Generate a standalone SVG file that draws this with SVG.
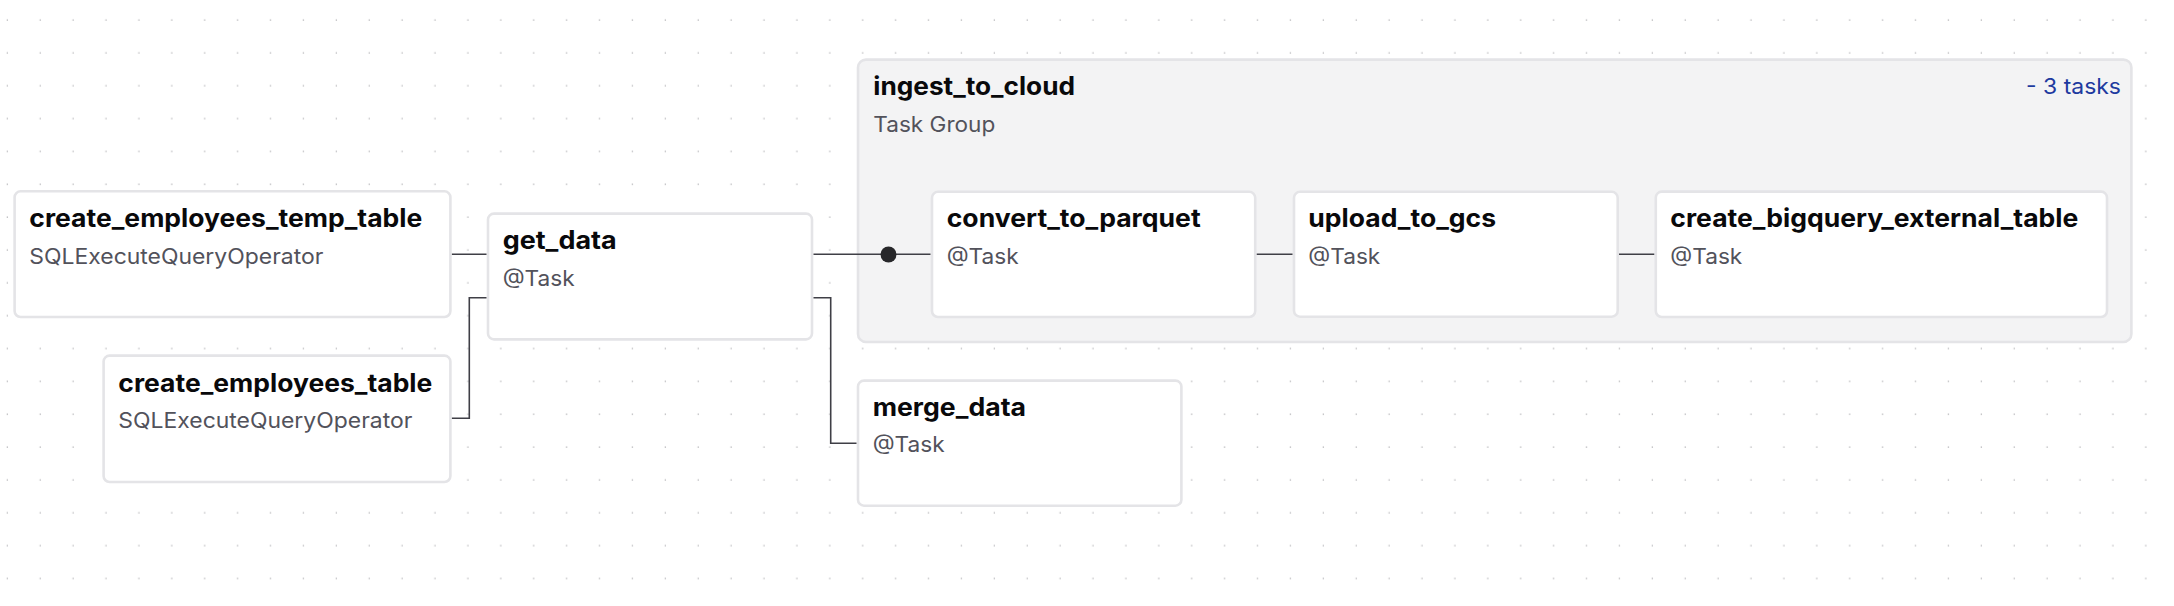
<svg xmlns="http://www.w3.org/2000/svg" width="2174" height="606" viewBox="0 0 2174 606">
  <defs>
    <pattern id="dots" x="0" y="0" width="32.9" height="32.85" patternUnits="userSpaceOnUse">
      <rect x="6.7" y="19.4" width="1.3" height="1.3" fill="#b4b4b8"/>
    </pattern>
  </defs>
  <style>
    .node { fill: #ffffff; stroke: #e4e4e7; stroke-width: 2.6; }
    .group { fill: #f3f3f4; stroke: #e4e4e7; stroke-width: 2.6; }
    .title { font-family: Inter, "Liberation Sans", sans-serif; font-weight: 700; font-size: 25px; fill: #09090b; }
    .sub { font-family: Inter, "Liberation Sans", sans-serif; font-weight: 400; font-size: 21.5px; fill: #52525b; }
    .count { font-family: Inter, "Liberation Sans", sans-serif; font-weight: 400; font-size: 21.5px; fill: #1e3a9f; }
    .edge { fill: none; stroke: #3f3f46; stroke-width: 1.6; }
  </style>
  <rect x="0" y="0" width="2174" height="606" fill="#ffffff"/>
  <rect x="0" y="0" width="2174" height="606" fill="url(#dots)"/>

  <g id="ingest_to_cloud">
    <rect class="group" x="858" y="59.6" width="1273.4" height="282.4" rx="8"/>
    <text class="title" x="873.3" y="95" textLength="201.7" lengthAdjust="spacingAndGlyphs">ingest_to_cloud</text>
    <text class="sub" x="873.3" y="131.7" textLength="122" lengthAdjust="spacingAndGlyphs">Task Group</text>
    <text class="count" x="2121" y="94.3" text-anchor="end" textLength="95" lengthAdjust="spacingAndGlyphs">- 3 tasks</text>
  </g>

  <g id="connectors">
    <path class="edge" d="M451.7 254.3 H486.7"/>
    <path class="edge" d="M451.7 418.3 H469.3 V297.7 H486.7"/>
    <path class="edge" d="M813.3 254.3 H930.7"/>
    <circle cx="888.5" cy="254.5" r="8" fill="#27272a"/>
    <path class="edge" d="M813.3 297.7 H830.7 V443.3 H856.7"/>
    <path class="edge" d="M1256.5 254.3 H1292.7"/>
    <path class="edge" d="M1619 254.3 H1654.5"/>
  </g>

  <g id="create_employees_temp_table">
    <rect class="node" x="14.6" y="191.3" width="435.8" height="125.7" rx="6"/>
    <text class="title" x="29.3" y="226.7" textLength="393" lengthAdjust="spacingAndGlyphs">create_employees_temp_table</text>
    <text class="sub" x="29.3" y="264.3" textLength="294" lengthAdjust="spacingAndGlyphs">SQLExecuteQueryOperator</text>
  </g>

  <g id="create_employees_table">
    <rect class="node" x="103.6" y="355.6" width="346.8" height="126.4" rx="6"/>
    <text class="title" x="118.3" y="391.7" textLength="314" lengthAdjust="spacingAndGlyphs">create_employees_table</text>
    <text class="sub" x="118.3" y="428.3" textLength="294" lengthAdjust="spacingAndGlyphs">SQLExecuteQueryOperator</text>
  </g>

  <g id="get_data">
    <rect class="node" x="488" y="213.6" width="324" height="125.8" rx="6"/>
    <text class="title" x="502.7" y="249" textLength="114" lengthAdjust="spacingAndGlyphs">get_data</text>
    <text class="sub" x="502.7" y="285.5" textLength="72" lengthAdjust="spacingAndGlyphs">@Task</text>
  </g>

  <g id="merge_data">
    <rect class="node" x="858" y="380.6" width="323.4" height="125.1" rx="6"/>
    <text class="title" x="872.7" y="415.7" textLength="153.3" lengthAdjust="spacingAndGlyphs">merge_data</text>
    <text class="sub" x="872.7" y="452" textLength="72" lengthAdjust="spacingAndGlyphs">@Task</text>
  </g>

  <g id="convert_to_parquet">
    <rect class="node" x="932" y="191.8" width="323.2" height="125.2" rx="6"/>
    <text class="title" x="946.7" y="226.7" textLength="254" lengthAdjust="spacingAndGlyphs">convert_to_parquet</text>
    <text class="sub" x="946.7" y="263.5" textLength="72" lengthAdjust="spacingAndGlyphs">@Task</text>
  </g>

  <g id="upload_to_gcs">
    <rect class="node" x="1294" y="191.8" width="323.7" height="124.9" rx="6"/>
    <text class="title" x="1308.3" y="226.7" textLength="187.7" lengthAdjust="spacingAndGlyphs">upload_to_gcs</text>
    <text class="sub" x="1308.3" y="263.5" textLength="72" lengthAdjust="spacingAndGlyphs">@Task</text>
  </g>

  <g id="create_bigquery_external_table">
    <rect class="node" x="1655.8" y="191.6" width="451.2" height="125.4" rx="6"/>
    <text class="title" x="1670.3" y="226.5" textLength="408" lengthAdjust="spacingAndGlyphs">create_bigquery_external_table</text>
    <text class="sub" x="1670.3" y="263.5" textLength="72" lengthAdjust="spacingAndGlyphs">@Task</text>
  </g>
</svg>
